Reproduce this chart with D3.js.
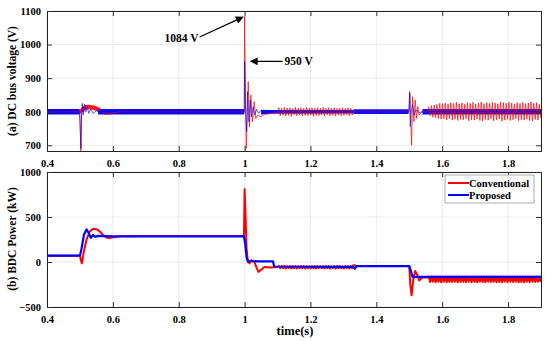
<!DOCTYPE html>
<html>
<head>
<meta charset="utf-8">
<script src="https://cdn.jsdelivr.net/npm/d3@7"></script>
<style>
  body { margin: 0; background: #fff; }
  text { font-family: "Liberation Serif", "Times New Roman", Times, serif; font-weight: bold; }
</style>
</head>
<body>
<svg id="chart" width="550" height="341"></svg>
<script>
// ---- data ----
var xTicks = [0.4, 0.6, 0.8, 1, 1.2, 1.4, 1.6, 1.8];
var vTicks = [700, 800, 900, 1000, 1100];
var pTicks = [-500, 0, 500, 1000];
var seriesNames = ["Conventional", "Proposed"];

// DC bus voltage, conventional (t, V)
var vConvA = [[0.4,800],[0.499,800],[0.501,760],[0.503,670],[0.505,790],[0.508,818],[0.512,800],
  [0.516,818],[0.525,818],[0.54,815],[0.55,811],[0.56,806],[0.57,798],[0.58,795],[0.6,796],
  [0.62,800],[0.999,800],[1.0,1084],[1.003,850],[1.005,690],[1.008,780],[1.011,890],[1.015,755],
  [1.019,850],[1.024,770],[1.029,830],[1.034,780],[1.04,790],[1.05,785],[1.06,792],[1.08,795],[1.1,798]];
var vConvRip1 = [812,788,810,790,813,787,811,789,812,786,810,791,813,788,811,790,812,787,810,789,
  813,788,811,790,812,786,810,789,812,788,811,790,813,787,810,791,812,788,811,789,812,787,810,790,
  811,788,812,789,810,791,812,788,811,790];
var vConvB = [[1.33,800],[1.499,800],[1.502,855],[1.505,760],[1.507,700],[1.51,845],[1.514,770],
  [1.518,835],[1.522,780],[1.526,815],[1.53,790],[1.54,802],[1.555,800]];
var vConvRip2 = [815,788,818,784,820,782,822,780,825,778,824,779,826,776,823,780,827,775,825,778,
  828,774,824,777,826,776,822,779,827,773,825,776,828,775,823,778,826,774,829,772,824,777,827,775,
  825,779,828,773,826,776,824,778,829,772,827,775,825,777,828,774,826,776,823,779,827,773,825,776,
  828,775,824,778,826,774,829,772,825,777,827,775,822,780];
// envelope of the dense switching ripple, conventional (t, low, high)
var vConvBand = [[0.4,793,807],[0.5,793,807],[0.515,806,820],[0.53,807,821],[0.545,804,818],
  [0.56,799,812],[0.575,792,801],[0.59,792,799],[0.61,795,802],[0.63,794,806],[1.0,794,806]];

// DC bus voltage, proposed
var vProp = [[0.4,800],[0.499,800],[0.501,740],[0.503,690],[0.505,800],[0.507,825],[0.51,790],
  [0.514,822],[0.518,800],[0.522,815],[0.527,795],[0.532,808],[0.54,795],[0.55,803],[0.56,800],
  [0.999,800],[1.0,950],[1.003,800],[1.006,740],[1.009,860],[1.013,770],[1.017,835],[1.021,785],
  [1.026,815],[1.031,790],[1.036,808],[1.042,795],[1.05,804],[1.06,797],[1.07,802],[1.08,800],
  [1.499,800],[1.501,860],[1.503,756],[1.506,800],[1.51,822],[1.515,790],[1.52,806],[1.53,797],
  [1.54,800],[1.9,800]];
// envelope of the dense switching ripple, proposed (segments of t, low, high)
var vPropBand = [
  [[0.4,792,808],[0.498,792,808]],
  [[0.555,792,808],[0.998,792,808]],
  [[1.05,792,806],[1.08,794,805],[1.33,795,805]],
  [[1.33,793,807],[1.498,793,807]],
  [[1.54,792,808],[1.9,792,808]]];

// BDC power, conventional (t, kW)
var pConvA = [[0.4,70],[0.5,70],[0.503,20],[0.506,-15],[0.51,80],[0.52,250],[0.53,340],[0.54,370],
  [0.55,365],[0.56,340],[0.57,300],[0.58,272],[0.59,265],[0.6,275],[0.62,287],[0.7,290],[0.998,290],
  [1.0,810],[1.003,500],[1.006,150],[1.01,0],[1.015,-15],[1.02,20],[1.03,0],[1.036,-60],[1.042,-110],
  [1.05,-85],[1.06,-55],[1.08,-60],[1.1,-55]];
var pConvRip1 = [-45,-70,-46,-68,-44,-72,-47,-67,-45,-71,-46,-69,-44,-73,-47,-68,-45,-70,-46,-72,
  -44,-68,-47,-71,-45,-69,-46,-72,-44,-67,-47,-70,-45,-73,-46,-68,-44,-71,-47,-69,-45,-72,-46,-68,
  -44,-70,-47,-71,-45,-69,-46,-72,-44,-68];
var pConvB = [[1.33,-35],[1.336,-40],[1.34,-45],[1.5,-45],[1.503,-250],[1.507,-370],[1.512,-200],
  [1.518,-100],[1.525,-150],[1.53,-205],[1.54,-170],[1.555,-172]];
var pConvRip2 = [-160,-222,-162,-218,-160,-225,-161,-220,-160,-224,-162,-219,-160,-226,-161,-221,
  -160,-223,-162,-218,-160,-225,-161,-222,-160,-220,-162,-226,-160,-219,-161,-224,-160,-221,-162,
  -225,-160,-218,-161,-223,-160,-226,-162,-220,-160,-222,-161,-219,-160,-225,-162,-221,-160,-224,
  -161,-218,-160,-226,-162,-220,-160,-223,-161,-219,-160,-225,-162,-221,-160,-224,-161,-218,-160,
  -226,-162,-220,-160,-223,-161,-219,-160,-222];

// BDC power, proposed
var pProp = [[0.4,70],[0.5,70],[0.505,150],[0.512,300],[0.52,362],[0.527,320],[0.533,270],
  [0.54,300],[0.547,280],[0.555,290],[0.6,285],[0.998,285],[1.002,200],[1.006,50],[1.01,10],
  [1.04,8],[1.086,8],[1.09,-50],[1.33,-55],[1.335,-75],[1.34,-45],[1.5,-45],[1.505,-100],
  [1.51,-165],[1.9,-165]];

// ---- helpers ----
function ripple(values, t0, dt) {
  return values.map(function(v, i) { return [t0 + i * dt, v]; });
}
var vConv = vConvA.concat(ripple(vConvRip1, 1.104, 0.0042), vConvB, ripple(vConvRip2, 1.559, 0.0042));
var pConv = pConvA.concat(ripple(pConvRip1, 1.104, 0.0042), pConvB, ripple(pConvRip2, 1.559, 0.0042));

var svg = d3.select("#chart");
var left = 47, right = 541;

var x = d3.scaleLinear().domain([0.4, 1.9]).range([left, right]);
var yV = d3.scaleLinear().domain([683, 1100]).range([151, 11]);
var yP = d3.scaleLinear().domain([-500, 1000]).range([307, 172]);

var defs = svg.append("defs");
defs.append("marker").attr("id", "arrow")
  .attr("viewBox", "0 0 10 10").attr("refX", 9).attr("refY", 5)
  .attr("markerWidth", 8).attr("markerHeight", 6).attr("orient", "auto")
  .append("path").attr("d", "M0,0 L10,5 L0,10 z").attr("fill", "#000");

function drawPanel(y, ticks, id) {
  var top = y.range()[1], bottom = y.range()[0];
  var g = svg.append("g");

  defs.append("clipPath").attr("id", id)
    .append("rect").attr("x", left).attr("y", top)
    .attr("width", right - left).attr("height", bottom - top);

  // grid
  g.selectAll(".gx").data(xTicks).enter().append("line")
    .attr("x1", function(d) { return x(d); }).attr("x2", function(d) { return x(d); })
    .attr("y1", top).attr("y2", bottom)
    .attr("stroke", "#e6e6e6").attr("stroke-width", 0.8);
  g.selectAll(".gy").data(ticks).enter().append("line")
    .attr("x1", left).attr("x2", right)
    .attr("y1", function(d) { return y(d); }).attr("y2", function(d) { return y(d); })
    .attr("stroke", "#e6e6e6").attr("stroke-width", 0.8);
  return g;
}

function drawFrame(g, y, ticks) {
  var top = y.range()[1], bottom = y.range()[0];
  // axes, ticks inside
  g.append("g").attr("transform", "translate(0," + bottom + ")")
    .call(d3.axisBottom(x).tickValues(xTicks).tickSize(-5).tickPadding(9).tickFormat(d3.format("")));
  g.append("g").attr("transform", "translate(0," + top + ")")
    .call(d3.axisTop(x).tickValues(xTicks).tickSize(-5).tickFormat(""));
  g.append("g").attr("transform", "translate(" + left + ",0)")
    .call(d3.axisLeft(y).tickValues(ticks).tickSize(-5).tickPadding(6).tickFormat(d3.format("")));
  g.append("g").attr("transform", "translate(" + right + ",0)")
    .call(d3.axisRight(y).tickValues(ticks).tickSize(-5).tickFormat(""));

  g.selectAll(".domain").attr("stroke", "#222").attr("stroke-width", 1);
  g.selectAll(".tick line").attr("stroke", "#333");
  g.selectAll(".tick text")
    .style("font-family", "'Liberation Serif', 'Times New Roman', serif")
    .style("font-weight", "bold").style("font-size", "10.5px").attr("fill", "#000");
}

var gV = drawPanel(yV, vTicks, "clipV");
var gP = drawPanel(yP, pTicks, "clipP");

function drawLine(g, data, y, clip, color, w, op) {
  g.append("path").datum(data)
    .attr("clip-path", "url(#" + clip + ")")
    .attr("fill", "none").attr("stroke", color)
    .attr("stroke-width", w).attr("stroke-opacity", op)
    .attr("stroke-linejoin", "round")
    .attr("d", d3.line().x(function(d) { return x(d[0]); }).y(function(d) { return y(d[1]); }));
}
function drawBand(g, data, y, clip, color, op) {
  g.append("path").datum(data)
    .attr("clip-path", "url(#" + clip + ")")
    .attr("fill", color).attr("fill-opacity", op)
    .attr("d", d3.area().x(function(d) { return x(d[0]); })
      .y0(function(d) { return y(d[1]); }).y1(function(d) { return y(d[2]); }));
}

drawBand(gV, vConvBand, yV, "clipV", "#ff0000", 0.9);
vPropBand.forEach(function(seg) { drawBand(gV, seg, yV, "clipV", "#0000ff", 0.95); });
drawLine(gV, vConv, yV, "clipV", "#ff0000", 1, 0.7);
drawLine(gV, vProp, yV, "clipV", "#0000ff", 1, 0.6);
drawLine(gP, pConv, yP, "clipP", "#ff0000", 2, 1);
drawLine(gP, pProp, yP, "clipP", "#0000ff", 2.2, 1);

drawFrame(gV, yV, vTicks);
drawFrame(gP, yP, pTicks);

// annotations
svg.append("line").attr("x1", x(1.0) - 45).attr("y1", 37).attr("x2", x(0.995)).attr("y2", yV(1082))
  .attr("stroke", "#000").attr("stroke-width", 1.3).attr("marker-end", "url(#arrow)");
svg.append("text").attr("x", x(1.0) - 46).attr("y", 42).attr("text-anchor", "end")
  .style("font-size", "11.5px").text("1084 V");
svg.append("line").attr("x1", x(1.0) + 38).attr("y1", yV(950)).attr("x2", x(1.0) + 6).attr("y2", yV(950))
  .attr("stroke", "#000").attr("stroke-width", 1.3).attr("marker-end", "url(#arrow)");
svg.append("text").attr("x", x(1.0) + 40).attr("y", yV(950) + 4)
  .style("font-size", "11.5px").text("950 V");

// axis titles
svg.append("text").attr("transform", "translate(16," + 81 + ") rotate(-90)")
  .attr("text-anchor", "middle").style("font-size", "11.5px").text("(a) DC bus voltage (V)");
svg.append("text").attr("transform", "translate(16," + 239 + ") rotate(-90)")
  .attr("text-anchor", "middle").style("font-size", "11.5px").text("(b) BDC Power (kW)");
svg.append("text").attr("x", 295).attr("y", 335).attr("text-anchor", "middle")
  .style("font-size", "12.5px").text("time(s)");

// legend
var lg = svg.append("g").attr("transform", "translate(445,175)");
lg.append("rect").attr("width", 89).attr("height", 28)
  .attr("fill", "#fff").attr("stroke", "#999").attr("stroke-width", 0.8);
var colors = ["#ff0000", "#0000ff"];
seriesNames.forEach(function(name, i) {
  lg.append("line").attr("x1", 3).attr("x2", 24).attr("y1", 8 + i * 12).attr("y2", 8 + i * 12)
    .attr("stroke", colors[i]).attr("stroke-width", 2);
  lg.append("text").attr("x", 24).attr("y", 11.5 + i * 12)
    .style("font-size", "10.5px").text(name);
});
</script>
</body>
</html>
